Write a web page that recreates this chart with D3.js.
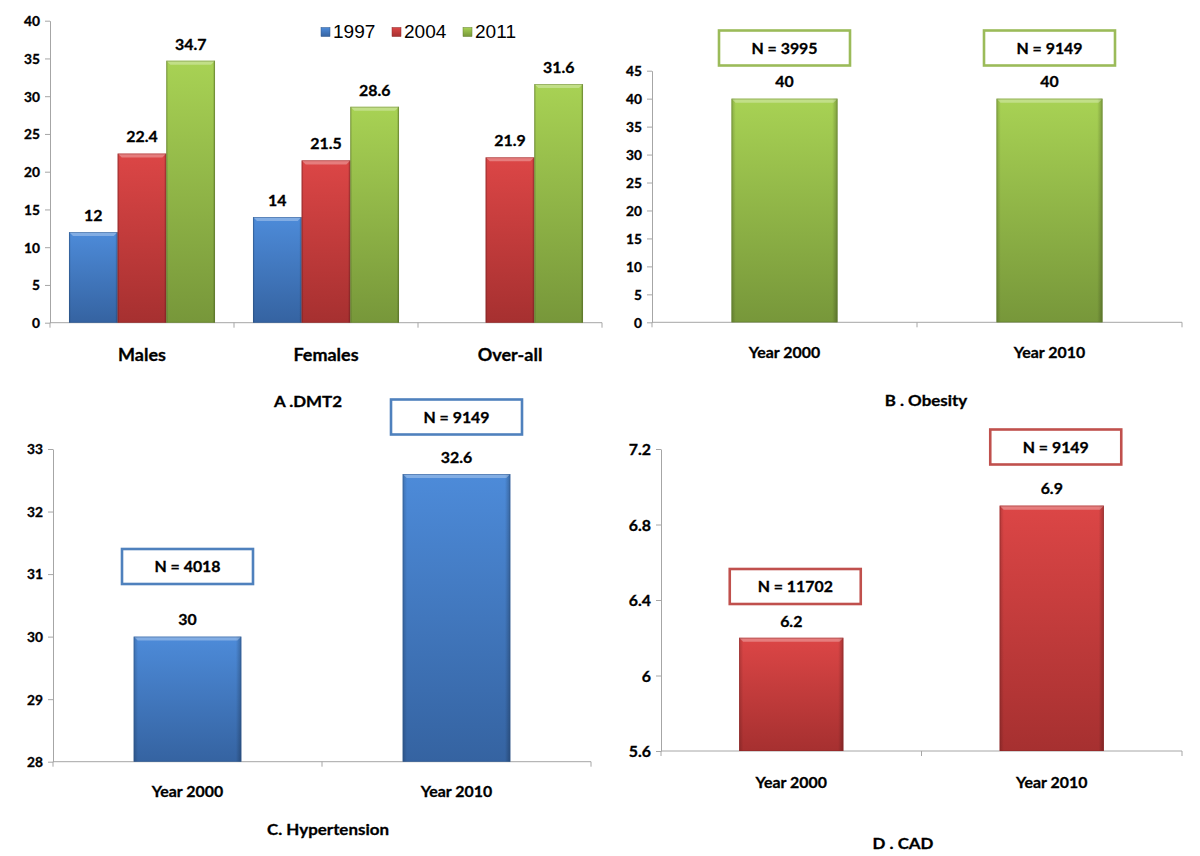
<!DOCTYPE html>
<html>
<head>
<meta charset="utf-8">
<script src="https://cdn.jsdelivr.net/npm/d3@7"></script>
<style>
  html, body { margin: 0; padding: 0; background: #fff; }
  svg { display: block; }
  text { font-family: Lato, "Open Sans", sans-serif; fill: #000; }
  text.bold { stroke: #000; stroke-width: 0.3px; }
</style>
</head>
<body>
<svg id="chart" width="1200" height="856"></svg>
<script>
// ---------------- DATA ----------------
const dmCategories = ["Males", "Females", "Over-all"];
const dmSeries = ["1997", "2004", "2011"];
const dm1997 = [12, 14, null];
const dm2004 = [22.4, 21.5, 21.9];
const dm2011 = [34.7, 28.6, 31.6];
const dmTicks = [0, 5, 10, 15, 20, 25, 30, 35, 40];

const yearCategories = ["Year 2000", "Year 2010"];

const obesityValues = [40, 40];
const obesityN = ["N = 3995", "N = 9149"];
const obesityTicks = [0, 5, 10, 15, 20, 25, 30, 35, 40, 45];

const hypValues = [30, 32.6];
const hypN = ["N = 4018", "N = 9149"];
const hypTicks = [28, 29, 30, 31, 32, 33];

const cadValues = [6.2, 6.9];
const cadN = ["N = 11702", "N = 9149"];
const cadTicks = [5.6, 6, 6.4, 6.8, 7.2];

const titles = ["A .DMT2", "B . Obesity", "C. Hypertension", "D . CAD"];

// ---------------- STYLE ----------------
const SX = 1.06; // horizontal stretch of the reference lettering
const axisColor = "#a6a6a6";
const palette = {
  blue:  { top: "#4d8bd9", bot: "#3563a1", edge: "#2c5487", box: "#4f81bd" },
  red:   { top: "#dc4646", bot: "#a63030", edge: "#8a2626", box: "#c0504d" },
  green: { top: "#a8d254", bot: "#77973a", edge: "#607c2c", box: "#9bbb59" }
};
const seriesColor = { "1997": "blue", "2004": "red", "2011": "green" };

const svg = d3.select("#chart");
const defs = svg.append("defs");
Object.entries(palette).forEach(([k, c]) => {
  const g = defs.append("linearGradient").attr("id", "grad-" + k)
    .attr("x1", 0).attr("y1", 0).attr("x2", 0).attr("y2", 1);
  g.append("stop").attr("offset", "0%").attr("stop-color", c.top);
  g.append("stop").attr("offset", "100%").attr("stop-color", c.bot);
  const h = defs.append("linearGradient").attr("id", "side-" + k)
    .attr("x1", 0).attr("y1", 0).attr("x2", 1).attr("y2", 0);
  h.append("stop").attr("offset", "0%").attr("stop-color", "#000").attr("stop-opacity", 0.18);
  h.append("stop").attr("offset", "4%").attr("stop-color", "#000").attr("stop-opacity", 0);
  h.append("stop").attr("offset", "95%").attr("stop-color", "#000").attr("stop-opacity", 0);
  h.append("stop").attr("offset", "100%").attr("stop-color", "#000").attr("stop-opacity", 0.25);
});

function txt(g, x, y, s, size, weight, anchor) {
  const w = weight || 700;
  return g.append("text")
    .attr("class", w >= 700 ? "bold" : null)
    .attr("transform", `translate(${x},${y}) scale(${SX},1)`)
    .attr("text-anchor", anchor || "middle")
    .attr("dominant-baseline", "central")
    .style("font-size", size + "px")
    .style("font-weight", w)
    .text(s);
}

function bar(g, x, w, yTop, yBot, colorKey) {
  const c = palette[colorKey];
  const h = yBot - yTop;
  g.append("rect").attr("x", x).attr("y", yTop).attr("width", w).attr("height", h)
    .attr("fill", `url(#grad-${colorKey})`);
  g.append("rect").attr("x", x).attr("y", yTop).attr("width", w).attr("height", h)
    .attr("fill", `url(#side-${colorKey})`);
  const b = 4;
  g.append("path")
    .attr("d", `M${x},${yTop}L${x + w},${yTop}L${x + w - b},${yTop + b}L${x + b},${yTop + b}Z`)
    .attr("fill", "#fff").attr("fill-opacity", 0.3);
  g.append("rect").attr("x", x + 0.4).attr("y", yTop + 0.4).attr("width", w - 0.8).attr("height", h - 0.8)
    .attr("fill", "none").attr("stroke", c.edge).attr("stroke-opacity", 0.55).attr("stroke-width", 0.8);
}

function yAxis(g, y, x0, ticks, size, fmt) {
  const ax = d3.axisLeft(y).tickValues(ticks).tickSize(5).tickSizeOuter(0)
    .tickFormat(fmt || (d => String(d)));
  const a = g.append("g").attr("transform", `translate(${x0},0)`).call(ax);
  a.select(".domain").attr("stroke", axisColor);
  a.selectAll(".tick line").attr("stroke", axisColor);
  a.selectAll(".tick text")
    .attr("class", "bold")
    .attr("x", -10 / SX)
    .attr("transform", `scale(${SX},1)`)
    .attr("dy", null)
    .attr("dominant-baseline", "central")
    .style("font-size", size + "px").style("font-weight", 700)
    .style("font-family", "Lato, 'Open Sans', sans-serif").attr("fill", "#000");
}

function xBaseline(g, x, yPix) {
  const r = x.range();
  const step = x.step();
  const n = x.domain().length;
  g.append("line").attr("x1", r[0]).attr("x2", r[1]).attr("y1", yPix).attr("y2", yPix)
    .attr("stroke", axisColor).attr("stroke-width", 1);
  d3.range(n + 1).forEach(i => {
    const xx = r[0] + i * step;
    g.append("line").attr("x1", xx).attr("x2", xx).attr("y1", yPix).attr("y2", yPix + 5)
      .attr("stroke", axisColor).attr("stroke-width", 1);
  });
}

// ---------------- PANEL A ----------------
(function () {
  const g = svg.append("g");
  const y = d3.scaleLinear().domain([0, 40]).range([322.7, 20.7]);
  const x0 = d3.scaleBand().domain(dmCategories).range([50, 602]).padding(0);
  const x1 = d3.scaleBand().domain(dmSeries).range([0, x0.bandwidth()]).paddingInner(0).paddingOuter(0.39);
  const seriesVals = { "1997": dm1997, "2004": dm2004, "2011": dm2011 };

  yAxis(g, y, 50, dmTicks, 13);
  xBaseline(g, x0, y(0));

  dmCategories.forEach((cat, i) => {
    dmSeries.forEach(s => {
      const v = seriesVals[s][i];
      if (v == null) return;
      const bx = x0(cat) + x1(s);
      bar(g, bx, x1.bandwidth(), y(v), y(0), seriesColor[s]);
      txt(g, bx + x1.bandwidth() / 2, y(v) - 17, String(v), 15);
    });
    txt(g, x0(cat) + x0.bandwidth() / 2, 355, cat, 17);
  });

  // legend
  const lg = g.append("g");
  dmSeries.forEach((s, i) => {
    const lx = 321 + i * 71;
    lg.append("rect").attr("x", lx).attr("y", 27.5).attr("width", 9).attr("height", 9)
      .attr("fill", `url(#grad-${seriesColor[s]})`)
      .attr("stroke", palette[seriesColor[s]].edge).attr("stroke-width", 0.5);
    txt(lg, lx + 12, 32, s, 18, 400, "start")
      .style("font-family", "'Liberation Sans', Arial, sans-serif");
  });

  txt(g, 308, 401, titles[0], 16);
})();

// ---------------- SINGLE-SERIES PANELS ----------------
function singlePanel(cfg) {
  const g = svg.append("g");
  const y = d3.scaleLinear().domain(cfg.domain).range(cfg.yRange);
  const x = d3.scaleBand().domain(yearCategories).range(cfg.xRange)
    .paddingInner(0.6).paddingOuter(0.3);
  yAxis(g, y, cfg.xRange[0], cfg.ticks, cfg.tickSize);
  xBaseline(g, x, y(cfg.domain[0]));

  yearCategories.forEach((cat, i) => {
    const v = cfg.values[i];
    const bx = x(cat);
    bar(g, bx, x.bandwidth(), y(v), y(cfg.domain[0]), cfg.color);
    const cx = bx + x.bandwidth() / 2;
    txt(g, cx, y(v) - 17, String(v), 15);
    txt(g, cx, cfg.catY, cat, 15);

    // N annotation box
    const bw = 131, bh = 35;
    const bcx = cx + (cfg.boxDx || 0), bcy = cfg.boxY[i];
    g.append("rect").attr("x", bcx - bw / 2).attr("y", bcy - bh / 2)
      .attr("width", bw).attr("height", bh)
      .attr("fill", "#fff").attr("stroke", palette[cfg.color].box).attr("stroke-width", 2.6);
    txt(g, bcx, bcy, cfg.nLabels[i], 15);
  });
  txt(g, cfg.titlePos[0], cfg.titlePos[1], cfg.title, 16);
}

singlePanel({
  domain: [0, 45], yRange: [322.3, 70.7], xRange: [652, 1182], ticks: obesityTicks, tickSize: 13,
  values: obesityValues, nLabels: obesityN, color: "green",
  catY: 352, boxY: [48, 48], title: titles[1], titlePos: [926, 400]
});

singlePanel({
  domain: [28, 33], yRange: [761.7, 449], xRange: [53, 591], ticks: hypTicks, tickSize: 13,
  values: hypValues, nLabels: hypN, color: "blue",
  catY: 791, boxY: [566.5, 417], title: titles[2], titlePos: [328, 829]
});

singlePanel({
  domain: [5.6, 7.2], yRange: [751, 449], xRange: [661, 1182], ticks: cadTicks, tickSize: 15,
  values: cadValues, nLabels: cadN, color: "red", boxDx: 4,
  catY: 782, boxY: [586.5, 447], title: titles[3], titlePos: [903, 843]
});
</script>
</body>
</html>
